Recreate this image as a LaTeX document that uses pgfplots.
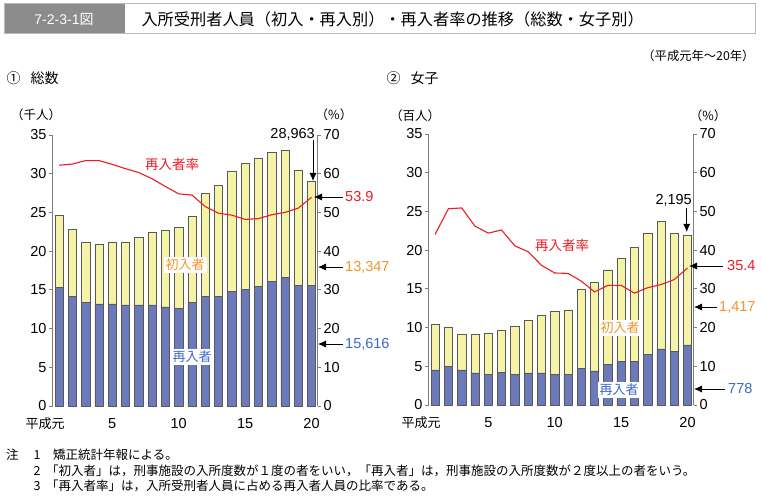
\documentclass[border=0pt]{standalone}
\usepackage{fontspec}
\setmainfont{Liberation Sans}
\newfontfamily\jp{Noto Sans CJK JP}
\usepackage{pgfplots}
\usepackage{pgfplotstable}
\pgfplotsset{compat=1.18}
\usetikzlibrary{arrows.meta}
\definecolor{barblue}{RGB}{108,122,188}
\definecolor{baryellow}{RGB}{245,243,165}
\definecolor{linered}{RGB}{237,28,36}
\definecolor{txtorange}{RGB}{243,150,40}
\definecolor{txtblue}{RGB}{60,105,200}
\definecolor{axgray}{RGB}{125,125,125}
\definecolor{titlegray}{RGB}{140,140,140}

% year, re-entrants, first-time, re-entry rate  (total: thousands)
\pgfplotstableread{
yr re first rate
1 15.30 9.30 62.2
2 14.15 8.65 62.5
3 13.37 7.73 63.4
4 13.20 7.65 63.4
5 13.20 8.00 62.4
6 13.05 8.15 61.3
7 13.05 8.75 60.3
8 13.05 9.40 58.7
9 12.80 9.85 56.7
10 12.60 10.45 54.8
11 13.35 11.10 54.5
12 14.15 13.35 51.5
13 14.15 14.35 49.8
14 14.85 15.45 49.3
15 15.05 16.30 48.2
16 15.45 16.60 48.4
17 16.10 16.65 49.4
18 16.60 16.45 50.0
19 15.55 14.95 51.1
20 15.616 13.347 53.9
}\totaltab
% women (hundreds)
\pgfplotstableread{
yr re first rate
1 4.55 5.85 44.1
2 5.00 5.00 50.7
3 4.55 4.60 50.9
4 4.15 5.00 46.2
5 4.00 5.30 44.4
6 4.25 5.35 45.2
7 4.00 6.15 41.1
8 4.15 6.75 39.6
9 4.15 7.45 36.1
10 4.00 8.15 34.1
11 4.00 8.25 34.0
12 4.70 10.30 32.0
13 4.40 11.40 29.2
14 5.25 12.15 30.9
15 5.65 13.25 30.9
16 5.65 14.70 28.9
17 6.50 15.65 30.3
18 7.25 16.45 31.1
19 6.90 15.25 32.4
20 7.78 14.17 35.4
}\womentab

\pgfplotsset{
 common/.style={
  scale only axis, width=265pt, height=271pt,
  xmin=0.5, xmax=20.45,
  tick align=outside, major tick length=3.5pt,
  ticklabel style={font=\fontsize{14.5}{16}\selectfont},
  /pgf/number format/assume math mode=true,
  y axis line style={draw=axgray, line width=0.9pt, -},
  y tick style={draw=axgray, line width=0.8pt},
  clip=false,
 },
 barax/.style={
  common,
  ymin=0, ymax=35, ytick={0,5,...,35},
  axis x line*=bottom, axis y line*=left,
  x axis line style={draw=none},
  xtick={5,10,15,20},
  extra x ticks={1}, extra x tick labels={{\jp\fontsize{13}{14}\selectfont 平成元}},
  extra x tick style={xticklabel style={xshift=-14pt}},
  x tick style={draw=none},
  xticklabel style={yshift=-5pt},
  yticklabel style={xshift=1pt},
  ybar stacked, bar width=0.62,
 },
 rateax/.style={
  common,
  ymin=0, ymax=70, ytick={0,10,...,70},
  axis x line=none, axis y line*=right,
  yticklabel style={xshift=-1pt},
 },
}

\begin{document}
\begin{tikzpicture}[x=1pt,y=1pt]
\path[use as bounding box, fill=white] (0,0) rectangle (762,-502);

% ---- title bar
\fill[titlegray] (4,-4) rectangle (125,-34);
\draw[gray!55, line width=1pt] (4,-4) rectangle (755,-34);
\node[white] at (64,-19) {\fontsize{14}{14}\selectfont 7-2-3-1{\jp 図}};
\node[anchor=west] at (138,-19) {\jp\fontsize{16.2}{17}\selectfont 入所受刑者人員（初入・再入別）・再入者率の推移（総数・女子別）};
\node[anchor=east] at (758,-56) {\jp\fontsize{12.3}{13}\selectfont （平成元年～20年）};
\node[anchor=west] at (3,-78) {\jp\fontsize{14}{14}\selectfont ①\hspace{10pt}総数};
\node[anchor=west] at (383,-78) {\jp\fontsize{14}{14}\selectfont ②\hspace{10pt}女子};

% ---- left chart
\begin{axis}[barax, at={(52.5pt,-406pt)}, anchor=south west]
\addplot[fill=barblue, draw=black!65, line width=0.5pt] table[x=yr, y=re] {\totaltab};
\addplot[fill=baryellow, draw=black!65, line width=0.5pt] table[x=yr, y=first] {\totaltab};
\end{axis}
\begin{axis}[rateax, at={(52.5pt,-406pt)}, anchor=south west]
\addplot[linered, line width=1.1pt, mark=none] table[x=yr, y=rate] {\totaltab};
\end{axis}

% ---- right chart
\begin{axis}[barax, at={(428.5pt,-405pt)}, anchor=south west]
\addplot[fill=barblue, draw=black!65, line width=0.5pt] table[x=yr, y=re] {\womentab};
\addplot[fill=baryellow, draw=black!65, line width=0.5pt] table[x=yr, y=first] {\womentab};
\end{axis}
\begin{axis}[rateax, at={(428.5pt,-405pt)}, anchor=south west]
\addplot[linered, line width=1.1pt, mark=none] table[x=yr, y=rate] {\womentab};
\end{axis}

% ---- annotations left
\def\fs{\fontsize{14.5}{16}\selectfont}
\def\jfs{\jp\fontsize{12.5}{13}\selectfont}
\def\jlab{\jp\fontsize{13}{14}\selectfont}
\node at (36,-115) {\jfs （千人）};
\node at (334,-115) {\jfs （\%）};
\node[linered] at (172,-164) {\jp\fontsize{13.5}{14}\selectfont 再入者率};
\node[txtorange, fill=white, inner sep=2pt] at (185,-265) {\jlab 初入者};
\node[txtblue, fill=white, inner sep=2pt] at (192,-357) {\jlab 再入者};
\node[anchor=east, inner sep=0pt] at (315,-134) {\fs 28,963};
\draw[line width=0.8pt, -{Latex[length=8pt,width=7pt]}] (313,-140) -- (313,-181);
\draw[line width=0.8pt, -{Latex[length=8pt,width=7pt]}] (343,-197) -- (314,-197);
\node[linered, anchor=west, inner sep=0pt] at (345,-197) {\fs 53.9};
\draw[line width=0.8pt, -{Latex[length=8pt,width=7pt]}] (343,-267) -- (318,-267);
\node[txtorange, anchor=west, inner sep=0pt] at (345,-267) {\fs 13,347};
\draw[line width=0.8pt, -{Latex[length=8pt,width=7pt]}] (343,-344) -- (318,-344);
\node[txtblue, anchor=west, inner sep=0pt] at (345,-344) {\fs 15,616};

% ---- annotations right
\node at (415,-116) {\jfs （百人）};
\node at (708,-116) {\jfs （\%）};
\node[linered] at (562,-245) {\jp\fontsize{13.5}{14}\selectfont 再入者率};
\node[txtorange, fill=white, inner sep=2pt] at (620,-328) {\jlab 初入者};
\node[txtblue, fill=white, inner sep=2pt] at (619,-390) {\jlab 再入者};
\node[anchor=east, inner sep=0pt] at (692,-200) {\fs 2,195};
\draw[line width=0.8pt, -{Latex[length=8pt,width=7pt]}] (686.7,-208) -- (686.7,-232);
\draw[line width=0.8pt, -{Latex[length=8pt,width=7pt]}] (723,-266) -- (689,-266);
\node[linered, anchor=west, inner sep=0pt] at (727,-266) {\fs 35.4};
\draw[line width=0.8pt, -{Latex[length=8pt,width=7pt]}] (717,-307) -- (694,-307);
\node[txtorange, anchor=west, inner sep=0pt] at (719,-307) {\fs 1,417};
\draw[line width=0.8pt, -{Latex[length=8pt,width=7pt]}] (725,-389) -- (694,-389);
\node[txtblue, anchor=west, inner sep=0pt] at (728,-389) {\fs 778};

% ---- notes
\def\nfs{\jp\fontsize{12.5}{13}\selectfont}
\node[anchor=west, inner sep=0pt] at (6,-455) {\nfs 注};
\node[inner sep=0pt] at (37,-455) {\nfs 1};
\node[anchor=west, inner sep=0pt] at (53,-455) {\nfs 矯正統計年報による。};
\node[inner sep=0pt] at (37,-471) {\nfs 2};
\node[anchor=west, inner sep=0pt] at (46,-471) {\nfs 「初入者」は，刑事施設の入所度数が１度の者をいい，「再入者」は，刑事施設の入所度数が２度以上の者をいう。};
\node[inner sep=0pt] at (37,-486) {\nfs 3};
\node[anchor=west, inner sep=0pt] at (46,-486) {\nfs 「再入者率」は，入所受刑者人員に占める再入者人員の比率である。};
\end{tikzpicture}
\end{document}
